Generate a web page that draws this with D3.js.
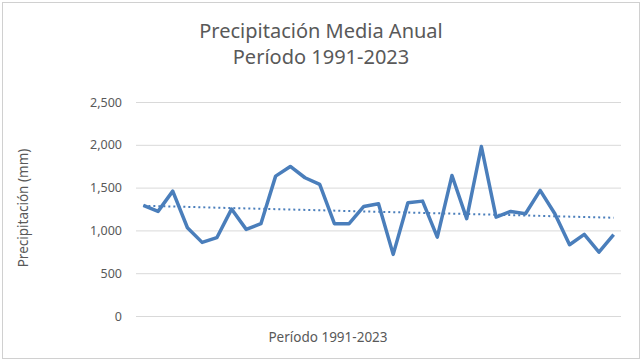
<!DOCTYPE html>
<html>
<head>
<meta charset="utf-8">
<title>Precipitación Media Anual</title>
<script src="https://d3js.org/d3.v7.min.js"></script>
<style>
    html, body { margin: 0; background: #fff; }
    svg text { font-family: "Noto Sans", "Open Sans", sans-serif; fill: #595959; }
</style>
</head>
<body>
<div id="chart"></div>
<script>
// data
var years = d3.range(1991, 2024);
var precip = [1292, 1222, 1459, 1031, 860, 915, 1249, 1012, 1078, 1634,
              1747, 1615, 1537, 1078, 1078, 1280, 1312, 720, 1323, 1342,
              922, 1642, 1137, 1980, 1155, 1222, 1195, 1467, 1195, 833,
              953, 747, 950];
var yTicks = [0, 500, 1000, 1500, 2000, 2500];
var titleLines = ["Precipitación Media Anual", "Período 1991-2023"];
var xTitle = "Período 1991-2023";
var yTitle = "Precipitación (mm)";

var width = 642, height = 362;
var plot = {left: 136, right: 621, top: 102, bottom: 316};

var svg = d3.select("#chart").append("svg")
    .attr("width", width)
    .attr("height", height);

svg.append("rect")
    .attr("x", 2.5).attr("y", 2.5)
    .attr("width", 637).attr("height", 356)
    .attr("fill", "#fff")
    .attr("stroke", "#d0d0d0");

var x = d3.scaleBand()
    .domain(years)
    .range([plot.left, plot.right]);

var y = d3.scaleLinear()
    .domain([0, 2500])
    .range([plot.bottom, plot.top]);

// grid + y labels
var yAxis = d3.axisLeft(y)
    .tickValues(yTicks)
    .tickFormat(d3.format(","))
    .tickSize(-(plot.right - plot.left))
    .tickPadding(14);

var gy = svg.append("g")
    .attr("transform", "translate(" + plot.left + ",0)")
    .call(yAxis);
gy.select(".domain").remove();
gy.selectAll(".tick line").attr("stroke", "#d9d9d9");
gy.selectAll(".tick text")
    .attr("font-size", 12.5)
    .attr("fill", "#595959");

// title
svg.append("text")
    .attr("x", 321)
    .attr("text-anchor", "middle")
    .attr("font-size", 20)
    .selectAll("tspan")
    .data(titleLines)
    .enter().append("tspan")
    .attr("x", 321)
    .attr("y", function(d, i) { return 38 + i * 26; })
    .text(function(d) { return d; });

svg.append("text")
    .attr("x", 328)
    .attr("y", 342)
    .attr("text-anchor", "middle")
    .attr("font-size", 13.5)
    .text(xTitle);

svg.append("text")
    .attr("transform", "translate(28,208) rotate(-90)")
    .attr("text-anchor", "middle")
    .attr("font-size", 13.5)
    .text(yTitle);

var cx = function(d, i) { return x(years[i]) + x.bandwidth() / 2; };

// linear trend (least squares over the series)
var n = precip.length;
var mx = d3.mean(d3.range(n)), my = d3.mean(precip);
var slope = d3.sum(d3.range(n), function(i) { return (i - mx) * (precip[i] - my); }) /
            d3.sum(d3.range(n), function(i) { return (i - mx) * (i - mx); });
var icpt = my - slope * mx;

svg.append("line")
    .attr("x1", cx(null, 0))
    .attr("x2", cx(null, n - 1))
    .attr("y1", y(icpt))
    .attr("y2", y(icpt + slope * (n - 1)))
    .attr("stroke", "#4a7ebb")
    .attr("stroke-width", 2)
    .attr("stroke-dasharray", "2,3");

var line = d3.line()
    .x(cx)
    .y(function(d) { return y(d); });

svg.append("path")
    .datum(precip)
    .attr("d", line)
    .attr("fill", "none")
    .attr("stroke", "#4a7ebb")
    .attr("stroke-width", 3.5)
    .attr("stroke-linejoin", "round");
</script>
</body>
</html>
